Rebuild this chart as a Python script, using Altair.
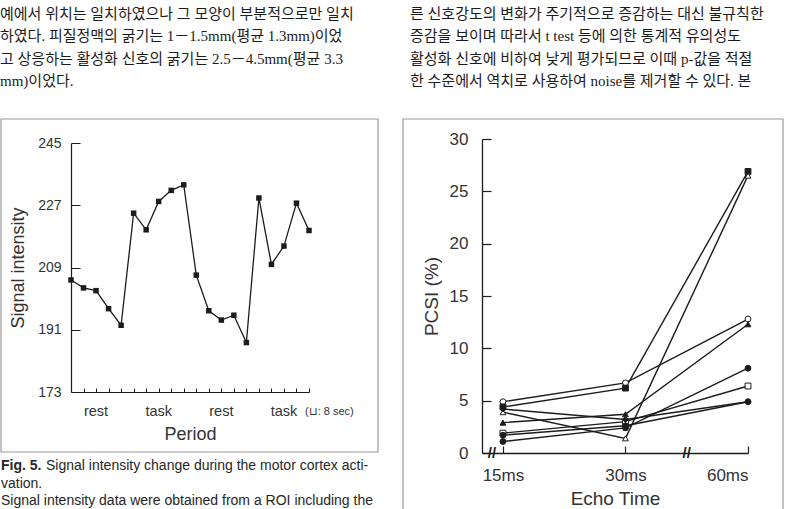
import json
import altair as alt
import pandas as pd

W, H = 787, 509
INK = "#1c1c1c"
GREY = "#333333"
SANS = "Liberation Sans"
KFONT = "Liberation Serif, Noto Sans CJK KR"

# ---------------- text content ----------------
left_text_lines = [
    "예에서 위치는 일치하였으나 그 모양이 부분적으로만 일치",
    "하였다. 피질정맥의 굵기는 1－1.5mm(평균 1.3mm)이었",
    "고 상응하는 활성화 신호의 굵기는 2.5－4.5mm(평균 3.3",
    "mm)이었다.",
]
right_text_lines = [
    "른 신호강도의 변화가 주기적으로 증감하는 대신 불규칙한",
    "증감을 보이며 따라서 t test 등에 의한 통계적 유의성도",
    "활성화 신호에 비하여 낮게 평가되므로 이때 p-값을 적절",
    "한 수준에서 역치로 사용하여 noise를 제거할 수 있다. 본",
]
caption_head = "Fig. 5."
caption_line1 = "Signal intensity change during the motor cortex acti-"
caption_line2 = "vation."
caption_line3 = "Signal intensity data were obtained from a ROI including the"

# ---------------- left chart data ----------------
period_index = list(range(20))
signal_intensity = [205.4, 203.1, 202.3, 197.1, 192.3, 224.7, 219.9, 228.1, 231.3, 232.9,
                    206.8, 196.5, 193.8, 195.2, 187.3, 229.1, 209.9, 215.2, 227.6, 219.7]
signal_ticks = [173, 191, 209, 227, 245]
period_names = ["rest", "task", "rest", "task"]
period_centers = [2, 7, 12, 17]
scan_ticks = list(range(1, 20))
period_note = "(⊔: 8 sec)"

# ---------------- right chart data ----------------
echo_times = ["15ms", "30ms", "60ms"]
echo_pos = [0, 1, 2]
pcsi_ticks = [0, 5, 10, 15, 20, 25, 30]
axis_breaks = [-0.09, 1.5]
series_names = ["s1", "s2", "s3", "s4", "s5", "s6", "s7", "s8"]
series_shapes = ["circle", "square", "triangle-up", "triangle-up", "square", "circle", "circle", "diamond"]
series_fills = ["white", INK, "white", INK, "white", INK, INK, INK]
pcsi_s1 = [4.9, 6.7, 12.8]
pcsi_s2 = [4.4, 6.2, 26.9]
pcsi_s3 = [3.9, 1.4, 26.5]
pcsi_s4 = [2.9, 3.7, 12.3]
pcsi_s5 = [1.9, 3.0, 6.4]
pcsi_s6 = [1.1, 2.4, 8.1]
pcsi_s7 = [1.7, 2.6, 4.9]
pcsi_s8 = [4.2, 3.2, 4.9]
pcsi_all = [pcsi_s1, pcsi_s2, pcsi_s3, pcsi_s4, pcsi_s5, pcsi_s6, pcsi_s7, pcsi_s8]

df_sig = pd.DataFrame({"t": period_index, "si": signal_intensity})
df_period = pd.DataFrame({"t": period_centers, "name": period_names})
rows = []
for name, vals in zip(series_names, pcsi_all):
    for p, v in zip(echo_pos, vals):
        rows.append({"series": name, "pos": p, "pcsi": v})
df_pcsi = pd.DataFrame(rows)
df_breaks = pd.DataFrame({"pos": axis_breaks, "pcsi": [0] * len(axis_breaks)})

one = alt.Data(values=[{}])

# ---------------- scales ----------------
xL = alt.Scale(domain=[0, 19], range=[71, 309], nice=False, zero=False)
yL = alt.Scale(domain=[173, 245], range=[392, 143], nice=False, zero=False)
xR = alt.Scale(domain=[-0.171, 2], range=[482, 748], nice=False, zero=False)
yR = alt.Scale(domain=[0, 30], range=[453, 139], nice=False, zero=False)

# ---------------- decorations ----------------
frames = [
    alt.Chart(one).mark_rect(fill="white", fillOpacity=0, stroke="#9a9a9a", strokeWidth=1.2).encode(
        x=alt.value(1), x2=alt.value(378), y=alt.value(119), y2=alt.value(452)),
    alt.Chart(one).mark_rect(fill="white", fillOpacity=0, stroke="#9a9a9a", strokeWidth=1.2).encode(
        x=alt.value(403), x2=alt.value(783), y=alt.value(119), y2=alt.value(520)),
]

body_left = alt.Chart(one).mark_text(align="left", baseline="top", font=KFONT, fontSize=15,
                                     lineHeight=22.4, color=INK).encode(
    x=alt.value(0), y=alt.value(7), text=alt.value(left_text_lines))
body_right = alt.Chart(one).mark_text(align="left", baseline="top", font=KFONT, fontSize=15,
                                      lineHeight=22.4, color=INK).encode(
    x=alt.value(410), y=alt.value(7), text=alt.value(right_text_lines))

cap_style = dict(align="left", baseline="middle", font=SANS, fontSize=14, color="#262626")
caption = [
    alt.Chart(one).mark_text(fontWeight="bold", **cap_style).encode(
        x=alt.value(1), y=alt.value(466), text=alt.value(caption_head)),
    alt.Chart(one).mark_text(**cap_style).encode(
        x=alt.value(46), y=alt.value(466), text=alt.value(caption_line1)),
    alt.Chart(one).mark_text(**cap_style).encode(
        x=alt.value(1), y=alt.value(484), text=alt.value(caption_line2)),
    alt.Chart(one).mark_text(**cap_style).encode(
        x=alt.value(1), y=alt.value(501), text=alt.value(caption_line3)),
]

# ---------------- left chart ----------------
left_line = alt.Chart(df_sig).mark_line(color=INK, strokeWidth=1.3).encode(
    x=alt.X("t:Q", scale=xL, axis=alt.Axis(
        orient="bottom", offset=-117, labels=False, ticks=False, tickSize=0, grid=False,
        domainColor=INK, domainWidth=1.2, title="Period", titleFont=SANS, titleFontSize=18,
        titleFontWeight="normal", titleColor=GREY, titlePadding=33)),
    y=alt.Y("si:Q", scale=yL, axis=alt.Axis(
        orient="left", offset=-71, values=signal_ticks, ticks=False, tickSize=0, grid=False,
        labelFont=SANS, labelFontSize=14, labelColor=GREY, labelPadding=10,
        domainColor=INK, domainWidth=1.2, title="Signal intensity", titleFont=SANS,
        titleFontSize=18, titleFontWeight="normal", titleColor=GREY, titlePadding=10)),
)
left_pts = alt.Chart(df_sig).mark_square(size=30, color=INK, opacity=1).encode(
    x=alt.X("t:Q", scale=xL, axis=alt.Axis(
        orient="top", offset=-392, values=scan_ticks, labels=False, domain=False, grid=False,
        tickSize=4, tickColor=INK, tickWidth=1, title=None)),
    y=alt.Y("si:Q", scale=yL, axis=alt.Axis(
        orient="right", offset=-(W - 71), values=signal_ticks, labels=False, domain=False,
        grid=False, tickSize=9, tickColor=INK, tickWidth=1, title=None)),
)
left_period = alt.Chart(df_period).mark_text(font=SANS, fontSize=14.5, color=GREY,
                                             baseline="middle").encode(
    x=alt.X("t:Q", scale=xL, axis=None), y=alt.value(412), text="name:N")
left_note = alt.Chart(one).mark_text(font=SANS, fontSize=11, color=GREY, align="left",
                                     baseline="middle").encode(
    x=alt.value(305), y=alt.value(412), text=alt.value(period_note))

# ---------------- right chart ----------------
label_expr = json.dumps(echo_times) + "[datum.value]"
right_lines = alt.Chart(df_pcsi).mark_line(color=INK, strokeWidth=1.4).encode(
    x=alt.X("pos:Q", scale=xR, axis=alt.Axis(
        orient="bottom", offset=-(H - 453), values=echo_pos, labelExpr=label_expr,
        ticks=False, tickSize=0, grid=False, labelFont=SANS, labelFontSize=17,
        labelColor=GREY, labelPadding=14, domainColor=INK, domainWidth=1.3,
        title="Echo  Time", titleFont=SANS, titleFontSize=19, titleFontWeight="normal",
        titleColor=GREY, titlePadding=6)),
    y=alt.Y("pcsi:Q", scale=yR, axis=alt.Axis(
        orient="left", offset=-482, values=pcsi_ticks, ticks=False, tickSize=0, grid=False,
        labelFont=SANS, labelFontSize=17, labelColor=GREY, labelPadding=14,
        domainColor=INK, domainWidth=1.3, title="PCSI (%)", titleFont=SANS,
        titleFontSize=19, titleFontWeight="normal", titleColor=GREY, titlePadding=8)),
    detail="series:N",
)
right_pts = alt.Chart(df_pcsi).mark_point(filled=True, size=34, stroke=INK, strokeWidth=1,
                                          opacity=1).encode(
    x=alt.X("pos:Q", scale=xR, axis=alt.Axis(
        orient="top", offset=-453, values=echo_pos, labels=False, domain=False, grid=False,
        tickSize=7, tickColor=INK, tickWidth=1.2, title=None)),
    y=alt.Y("pcsi:Q", scale=yR, axis=alt.Axis(
        orient="right", offset=-(W - 482), values=pcsi_ticks, labels=False, domain=False,
        grid=False, tickSize=9, tickColor=INK, tickWidth=1.2, title=None)),
    shape=alt.Shape("series:N", scale=alt.Scale(domain=series_names, range=series_shapes),
                    legend=None),
    fill=alt.Fill("series:N", scale=alt.Scale(domain=series_names, range=series_fills),
                  legend=None),
)
right_breaks = alt.Chart(df_breaks).mark_text(font=SANS, fontSize=15, fontWeight="bold",
                                              color=INK, baseline="middle").encode(
    x=alt.X("pos:Q", scale=xR, axis=None),
    y=alt.Y("pcsi:Q", scale=yR, axis=None),
    text=alt.value("//"),
)

layers = frames + [body_left, body_right] + caption + [
    left_line, left_pts, left_period, left_note,
    right_lines, right_pts, right_breaks,
]

chart = alt.layer(*layers).resolve_scale(
    x="independent", y="independent", shape="independent", fill="independent"
).properties(
    width=W, height=H, autosize=alt.AutoSizeParams(type="none"), padding=0,
    background="white",
).configure_view(stroke=None)

chart.save("out.html", embed_options={"renderer": "svg", "actions": False})
